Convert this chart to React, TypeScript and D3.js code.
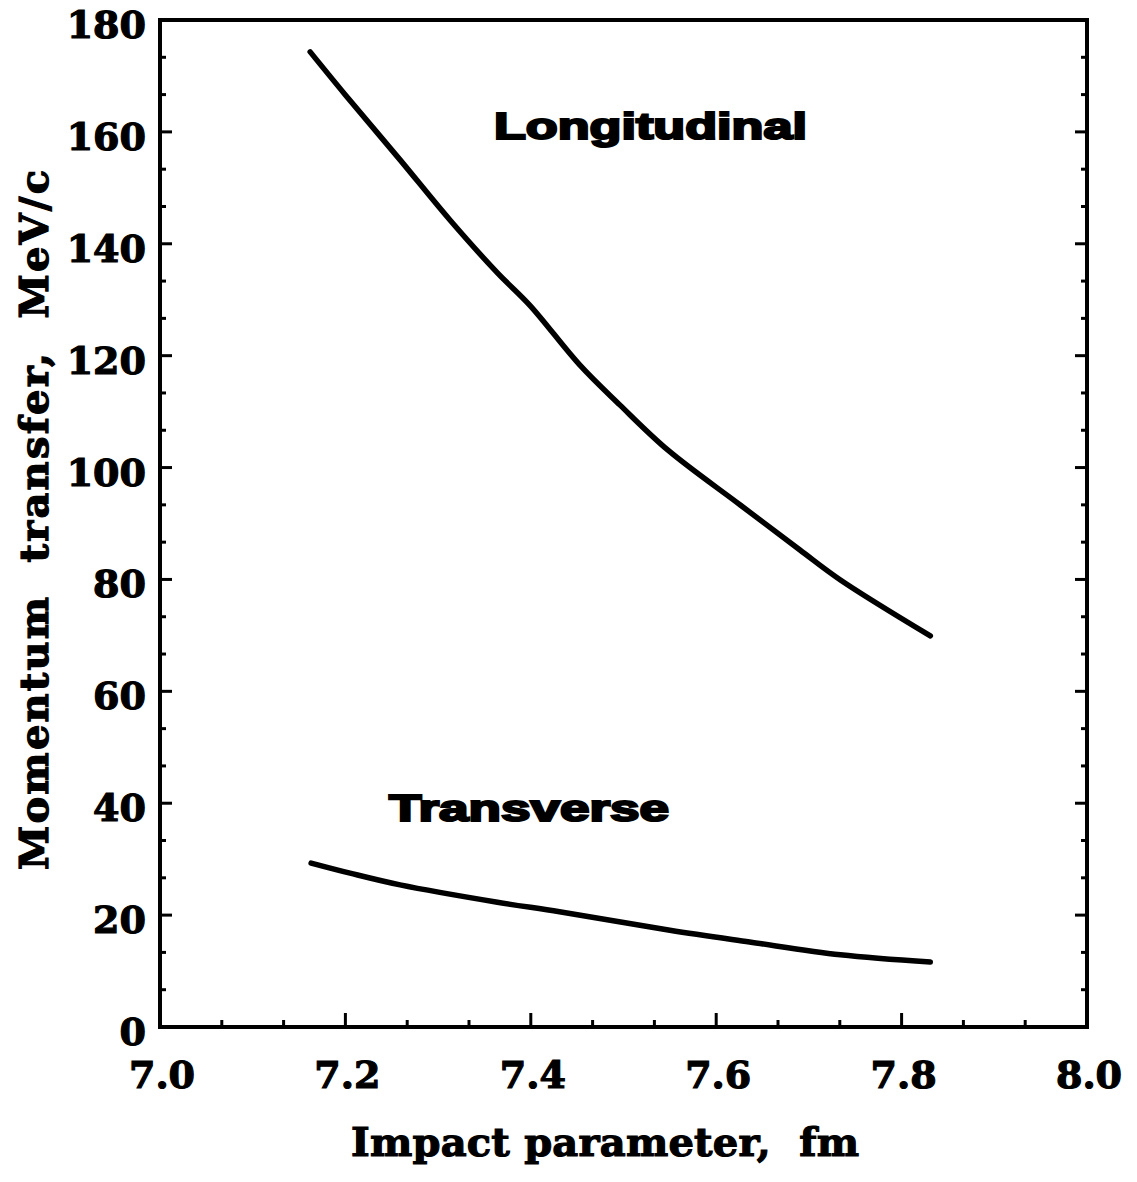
import React from "react";
import * as d3 from "d3";

const longX = [7.162, 7.2, 7.259, 7.313, 7.364, 7.399, 7.453, 7.496, 7.548, 7.626, 7.69, 7.734, 7.831];
const longY = [174.3, 166.6, 155.0, 144.2, 134.8, 129.0, 118.3, 111.2, 103.1, 93.3, 85.3, 79.9, 69.9];
const transX = [7.163, 7.205, 7.259, 7.364, 7.431, 7.55, 7.636, 7.734, 7.831];
const transY = [29.3, 27.5, 25.4, 22.3, 20.6, 17.3, 15.2, 12.9, 11.6];
const xTicks = [7.0, 7.2, 7.4, 7.6, 7.8, 8.0];
const xTickLabels = ["7.0", "7.2", "7.4", "7.6", "7.8", "8.0"];
const yTicks = [0, 20, 40, 60, 80, 100, 120, 140, 160, 180];

const W = 1137, H = 1182;
const L = 160, R = 1087, T = 20, B = 1027;

export default function App() {
  const x = d3.scaleLinear().domain([7.0, 8.0]).range([L, R]);
  const y = d3.scaleLinear().domain([0, 180]).range([B, T]);
  const line = d3.line<[number, number]>().x(d => x(d[0])).y(d => y(d[1])).curve(d3.curveCatmullRom);
  const longPts = longX.map((v, i) => [v, longY[i]] as [number, number]);
  const transPts = transX.map((v, i) => [v, transY[i]] as [number, number]);

  const xMinor: number[] = [];
  for (let i = 0; i <= 15; i++) xMinor.push(7 + i * (0.2 / 3));
  const yMinor: number[] = [];
  for (let i = 0; i <= 27; i++) yMinor.push(i * (20 / 3));

  const serif = "'DejaVu Serif', serif";
  const sans = "'Liberation Sans', Arial, sans-serif";

  return (
    <svg width={W} height={H} style={{ position: "absolute", left: 0, top: 0, background: "#fff" }}>
      <rect x={0} y={0} width={W} height={H} fill="#fff" />
      {xMinor.map((v, i) => {
        const major = i % 3 === 0;
        return <line key={"xm" + i} x1={x(v)} x2={x(v)} y1={B} y2={B - (major ? 14 : 7)} stroke="#000" strokeWidth={3} />;
      })}
      {yMinor.map((v, i) => {
        const major = i % 3 === 0;
        return (
          <g key={"ym" + i}>
            <line x1={L} x2={L + (major ? 12 : 6)} y1={y(v)} y2={y(v)} stroke="#000" strokeWidth={3} />
            <line x1={R} x2={R - (major ? 12 : 6)} y1={y(v)} y2={y(v)} stroke="#000" strokeWidth={3} />
          </g>
        );
      })}
      <rect x={L} y={T} width={R - L} height={B - T} fill="none" stroke="#000" strokeWidth={4} />

      <path d={line(longPts) || ""} fill="none" stroke="#000" strokeWidth={5.5} strokeLinecap="round" strokeLinejoin="round" />
      <path d={line(transPts) || ""} fill="none" stroke="#000" strokeWidth={5.5} strokeLinecap="round" strokeLinejoin="round" />

      <g fontFamily={serif} fontWeight="bold" fontSize={38} fill="#000" stroke="#000" strokeWidth={1.2}>
        {yTicks.map(v => (
          <text key={"yl" + v} x={146} y={y(v) + 18} textAnchor="end">
            {v}
          </text>
        ))}
        {xTicks.map((v, i) => (
          <text key={"xl" + v} x={x(v) + 2} y={1088} textAnchor="middle">
            {xTickLabels[i]}
          </text>
        ))}
        <text x={605} y={1156} textAnchor="middle" fontSize={40} textLength={508} lengthAdjust="spacing" style={{ whiteSpace: "pre" }}>
          {"Impact parameter,  fm"}
        </text>
        <text transform={`translate(48, 520) rotate(-90)`} textAnchor="middle" fontSize={40} textLength={700} lengthAdjust="spacing" style={{ whiteSpace: "pre" }}>
          {"Momentum  transfer,  MeV/c"}
        </text>
      </g>

      <g fontFamily={sans} fontWeight="900" fontSize={37} fill="#000" stroke="#000" strokeWidth={2.2}>
        <text x={494} y={139} textLength={313} lengthAdjust="spacingAndGlyphs">
          Longitudinal
        </text>
        <text x={389} y={821} textLength={280} lengthAdjust="spacingAndGlyphs">
          Transverse
        </text>
      </g>
    </svg>
  );
}
